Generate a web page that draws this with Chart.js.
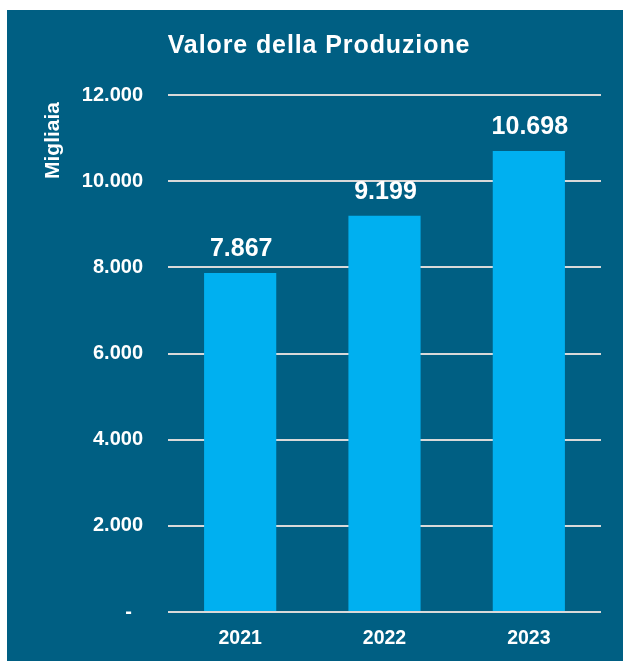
<!DOCTYPE html>
<html>
<head>
<meta charset="utf-8">
<script src="https://cdn.jsdelivr.net/npm/chart.js@4.4.0/dist/chart.umd.min.js"></script>
<style>
  body { margin: 0; background: #ffffff; }
  #panel { position: absolute; left: 7px; top: 10px; width: 616px; height: 651px; background: #005F83; }
</style>
</head>
<body>
<div id="panel"><canvas id="chart"></canvas></div>
<script>
// Valore della Produzione (migliaia)
const years = ['2021', '2022', '2023'];
const values = [7867, 9199, 10698];
const yTicks = [0, 2000, 4000, 6000, 8000, 10000, 12000];
const chartTitle = 'Valore della Produzione';
const yTitle = 'Migliaia';

const FONT = 'Arial, "Liberation Sans", sans-serif';

// format 10698 -> "10.698"
function fmt(v) {
    return String(v).replace(/\B(?=(\d{3})+(?!\d))/g, '.');
}

// title, y title and value labels drawn by hand (letter spacing / placement)
const extras = {
    id: 'extras',
    afterDraw(chart) {
        const ctx = chart.ctx;
        ctx.save();
        ctx.fillStyle = '#ffffff';

        // title
        ctx.font = 'bold 25px ' + FONT;
        ctx.textAlign = 'center';
        ctx.textBaseline = 'alphabetic';
        if ('letterSpacing' in ctx) ctx.letterSpacing = '0.9px';
        ctx.fillText(chartTitle, 312, 43);
        if ('letterSpacing' in ctx) ctx.letterSpacing = '0px';

        // y axis title
        ctx.save();
        ctx.translate(46.5, 130.5);
        ctx.rotate(-Math.PI / 2);
        ctx.font = 'bold 21px ' + FONT;
        ctx.textAlign = 'center';
        ctx.textBaseline = 'middle';
        ctx.fillText(yTitle, 0, 0);
        ctx.restore();

        // values above bars
        const meta = chart.getDatasetMeta(0);
        ctx.font = 'bold 25px ' + FONT;
        ctx.textAlign = 'center';
        ctx.textBaseline = 'alphabetic';
        meta.data.forEach((bar, i) => {
            ctx.fillText(fmt(values[i]), bar.x + 1, bar.y - 17);
        });
        ctx.restore();
    }
};

new Chart(document.getElementById('chart'), {
    type: 'bar',
    data: {
        labels: years,
        datasets: [{
            data: values,
            backgroundColor: '#00B0F0',
            borderWidth: 0,
            categoryPercentage: 0.5,
            barPercentage: 1
        }]
    },
    options: {
        responsive: true,
        maintainAspectRatio: false,
        animation: false,
        layout: { padding: { left: 0, right: 22, top: 85, bottom: 0 } },
        plugins: {
            legend: { display: false },
            tooltip: { enabled: false },
            title: { display: false }
        },
        scales: {
            x: {
                grid: { display: false },
                border: { display: false },
                ticks: {
                    color: '#ffffff',
                    font: { family: FONT, size: 19.5, weight: 'bold' },
                    padding: 7
                },
                afterFit: s => { s.height = 49; }
            },
            y: {
                min: 0,
                max: 12000,
                afterBuildTicks: s => { s.ticks = yTicks.map(v => ({ value: v })); },
                grid: { color: '#D9D9D9', lineWidth: 2, drawTicks: false },
                border: { display: false },
                ticks: {
                    color: '#ffffff',
                    font: { family: FONT, size: 20, weight: 'bold' },
                    padding: 25,
                    // zero shown as a dash, set in a little like the original
                    callback: v => v === 0 ? '-  ' : fmt(v)
                },
                afterFit: s => { s.width = 161; }
            }
        }
    },
    plugins: [extras]
});
</script>
</body>
</html>
